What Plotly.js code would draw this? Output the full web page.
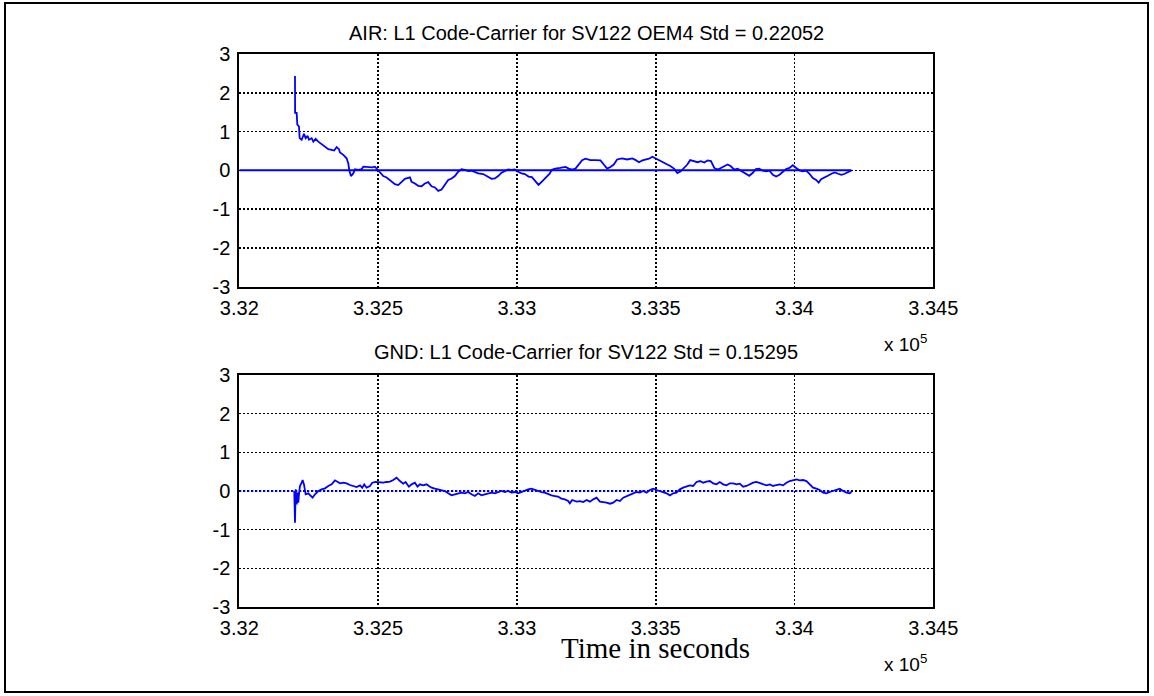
<!DOCTYPE html>
<html><head><meta charset="utf-8">
<script src="https://cdn.plot.ly/plotly-3.0.1.min.js"></script>
<style>html,body{margin:0;padding:0;background:#fff;}#chart{width:1154px;height:696px;}</style>
</head><body><div id="chart"></div>
<script>
const airTitle = 'AIR: L1 Code-Carrier for SV122 OEM4 Std = 0.22052';
const gndTitle = 'GND: L1 Code-Carrier for SV122 Std = 0.15295';
const xLabel = 'Time in seconds';
const xTickVals = [332000, 332500, 333000, 333500, 334000, 334500];
const xTickText = ['3.32', '3.325', '3.33', '3.335', '3.34', '3.345'];
const yTickVals = [-3, -2, -1, 0, 1, 2, 3];
const yTickText = ['-3', '-2', '-1', '0', '1', '2', '3'];

const airTime = [332200.6,332201,332206.6,332209,332215,332217.4,332224.6,332233,332239,332246,332251,332260.6,332266.6,332275,332284.6,332296.6,332308.6,332320.6,332332.6,332342,332350.6,332359,332362.6,332374.6,332386.6,332392.6,332396,332402,332410.6,332416.6,332428.6,332440.6,332446.6,332464.6,332479,332488.6,332498.2,332506.6,332518.6,332530.6,332542.6,332560.6,332572.6,332584.6,332596.6,332614.6,332620.6,332632.6,332644.6,332656.6,332668.6,332680.6,332692.6,332704.6,332716.6,332728.6,332740.6,332752.6,332764.6,332776.6,332788.6,332800.6,332812.6,332824.6,332836.6,332848.6,332860.6,332878.6,332896.6,332908.6,332920.6,332932.6,332944.6,332956.6,332968.6,332980.6,332992.6,333004.6,333016.6,333028.6,333042,333054,333066,333078,333090,333102,333118,333126,333138,333156,333175,333187,333199,333211,333223,333235,333247,333265,333283,333301,333313,333325,333337,333349,333361,333379,333397,333416,333428,333440,333452,333464,333476,333488,333500,333512,333524,333536,333554,333566,333578,333590,333602,333614,333624,333639,333651,333663,333675,333687,333699,333711,333723,333735,333747,333759,333771,333783,333795,333807,333819,333837,333849,333861,333873,333886,333898,333910,333922,333934,333946,333958,333970,333982,333994,334006,334018,334030,334042,334054,334066,334078,334087,334096,334108,334120,334133,334145,334157,334169,334181,334193,334205];
const airValue = [2.43,1.48,1.48,1.18,1.13,0.83,0.79,0.94,0.83,0.89,0.79,0.83,0.74,0.81,0.74,0.68,0.60,0.545,0.53,0.51,0.60,0.545,0.46,0.40,0.31,0.18,0.01,-0.148,-0.08,0.025,0.01,0.03,0.094,0.085,0.077,0.094,0.01,-0.036,-0.148,-0.183,-0.25,-0.356,-0.38,-0.295,-0.217,-0.183,-0.295,-0.34,-0.40,-0.41,-0.34,-0.305,-0.41,-0.44,-0.53,-0.495,-0.38,-0.25,-0.21,-0.148,-0.036,0.03,0.01,-0.02,-0.01,-0.036,-0.08,-0.096,-0.165,-0.217,-0.21,-0.148,-0.06,-0.02,0.025,0.01,0.025,-0.036,-0.08,-0.096,-0.16,-0.175,-0.29,-0.376,-0.29,-0.2,-0.087,0.018,0.044,0.062,0.088,0.044,0.018,0.044,0.15,0.263,0.3,0.263,0.263,0.255,0.15,0.044,0.088,0.15,0.28,0.307,0.28,0.307,0.263,0.21,0.255,0.28,0.3,0.35,0.307,0.263,0.22,0.167,0.105,0.044,-0.07,-0.026,0.062,0.15,0.263,0.237,0.21,0.237,0.202,0.255,0.237,0.062,0.018,0.062,0.105,0.15,0.105,0.018,0.044,-0.009,-0.053,-0.14,-0.07,0.035,0.044,-0.009,-0.026,-0.009,-0.114,-0.158,-0.114,-0.026,0.035,0.062,0.132,0.062,0.0,-0.026,-0.009,-0.088,-0.2,-0.245,-0.316,-0.228,-0.175,-0.14,-0.088,-0.053,-0.088,-0.114,-0.088,-0.053,0.0];

const gndTime = [332198,332200.6,332203,332206.6,332210,332212.6,332215,332218.6,332224.6,332228,332233,332239,332248.6,332258,332264,332272.6,332284.6,332296.6,332308.6,332320.6,332332.6,332344.6,332354,332362.6,332374.6,332386.6,332398.6,332410.6,332422.6,332434.6,332443,332450,332458.6,332470.6,332479,332491,332506.6,332518.6,332530.6,332542.6,332554.6,332566.6,332578.6,332590.6,332599,332611,332620.6,332632.6,332642,332650.6,332662.6,332674.6,332683,332692.6,332704.6,332716.6,332728.6,332740.6,332752.6,332764.6,332776.6,332788.6,332800.6,332812.6,332824.6,332836.6,332848.6,332860.6,332872.6,332884.6,332896.6,332908.6,332920.6,332932.6,332944.6,332956.6,332968.6,332980.6,332992.6,333004.6,333016.6,333028.6,333040.6,333052.6,333064.6,333076.6,333088.6,333100.6,333112.6,333124.6,333136.6,333148.6,333160.6,333172.6,333184.6,333190.6,333199,333215,333227,333239,333251,333263,333275,333287,333299,333311,333323,333335,333347,333359,333371,333383,333395,333407,333419,333431,333443,333455,333467,333479,333491,333503,333515,333527,333539,333551,333563,333575,333587,333599,333611,333623,333635,333647,333659,333671,333683,333695,333707,333719,333731,333743,333755,333767,333779,333791,333803,333815,333827,333839,333851,333863,333875,333887,333899,333911,333923,333935,333947,333959,333971,333983,333995,334007,334019,334031,334043,334055,334067,334079,334091,334103,334115,334127,334139,334151,334163,334175,334187,334199,334205];
const gndValue = [0.0,-0.82,0.043,-0.345,-0.043,-0.3,-0.086,0.13,0.215,0.284,0.172,-0.086,-0.06,-0.13,-0.173,-0.086,0.0,0.043,0.069,0.13,0.172,0.276,0.241,0.198,0.215,0.198,0.155,0.13,0.103,0.146,0.086,0.172,0.086,0.13,0.215,0.233,0.215,0.215,0.233,0.241,0.284,0.345,0.258,0.19,0.233,0.112,0.172,0.215,0.112,0.172,0.146,0.172,0.13,0.086,0.06,0.043,0.026,0.0,-0.06,-0.112,-0.086,-0.069,-0.043,-0.06,-0.026,-0.086,-0.13,-0.06,-0.112,-0.086,-0.06,-0.043,-0.06,-0.026,0.0,-0.026,0.0,-0.043,-0.026,-0.06,-0.026,0.026,0.043,0.06,0.026,0.0,-0.026,-0.043,-0.086,-0.112,-0.13,-0.147,-0.2,-0.216,-0.26,-0.32,-0.233,-0.276,-0.26,-0.285,-0.233,-0.276,-0.216,-0.173,-0.276,-0.285,-0.3,-0.328,-0.3,-0.233,-0.26,-0.173,-0.13,-0.086,-0.06,-0.026,-0.043,0.0,-0.043,0.026,0.06,0.026,0.0,-0.026,-0.06,-0.112,-0.06,-0.043,0.043,0.086,0.112,0.146,0.13,0.233,0.258,0.215,0.241,0.258,0.198,0.172,0.233,0.172,0.146,0.198,0.198,0.172,0.19,0.112,0.13,0.172,0.215,0.233,0.198,0.172,0.146,0.172,0.13,0.155,0.172,0.146,0.215,0.258,0.284,0.3,0.276,0.284,0.258,0.172,0.086,0.06,0.026,-0.043,-0.06,-0.026,0.0,0.043,0.06,0.0,-0.043,-0.06,-0.026];

const zeroTime = [332000, 334205];
const zeroValue = [0, 0];

const W = 1154, H = 696;
const px = v => v / W;
const py = v => 1 - v / H;

const blue = '#0000ff';
const sans = 'Liberation Sans, Arial, sans-serif';
const tickFont = {family: sans, size: 20, color: '#000'};

function xAxis(anchor, domainLeft, domainRight) {
  return {
    domain: [px(domainLeft), px(domainRight)], anchor: anchor,
    range: [332000, 334500], tickmode: 'array', tickvals: xTickVals, ticktext: xTickText,
    showgrid: true, gridcolor: '#000', griddash: '2px,2px', gridwidth: 1.6,
    showline: true, mirror: true, linecolor: '#000', linewidth: 2,
    zeroline: false, ticks: '', tickfont: tickFont, ticklabelstandoff: 2
  };
}
function yAxis(anchor, top, bottom) {
  return {
    domain: [py(bottom), py(top)], anchor: anchor,
    range: [-3, 3], tickmode: 'array', tickvals: yTickVals, ticktext: yTickText,
    showgrid: true, gridcolor: '#000', griddash: '2px,2px', gridwidth: 1.6,
    showline: true, mirror: true, linecolor: '#000', linewidth: 2,
    zeroline: false, ticks: '', tickfont: tickFont, ticklabelstandoff: 3
  };
}

const traces = [
  {x: zeroTime, y: zeroValue, xaxis: 'x', yaxis: 'y', mode: 'lines', line: {color: blue, width: 2}, hoverinfo: 'skip'},
  {x: airTime, y: airValue, xaxis: 'x', yaxis: 'y', mode: 'lines', line: {color: blue, width: 1.8}},
  {x: zeroTime, y: zeroValue, xaxis: 'x2', yaxis: 'y2', mode: 'lines', line: {color: blue, width: 2, dash: '2px,2px'}, hoverinfo: 'skip'},
  {x: gndTime, y: gndValue, xaxis: 'x2', yaxis: 'y2', mode: 'lines', line: {color: blue, width: 1.8}}
];

const layout = {
  width: W, height: H, margin: {l: 0, r: 0, t: 0, b: 0},
  paper_bgcolor: '#fff', plot_bgcolor: '#fff', showlegend: false,
  xaxis: xAxis('y', 239.3, 933.3),
  yaxis: yAxis('x', 54, 286.7),
  xaxis2: xAxis('y2', 239.3, 933.3),
  yaxis2: yAxis('x2', 375, 607),
  shapes: [
    {type: 'rect', xref: 'paper', yref: 'paper', x0: px(5), x1: px(1148), y0: py(3), y1: py(692),
     line: {color: '#000', width: 2}, fillcolor: 'rgba(0,0,0,0)'}
  ],
  annotations: [
    {xref: 'paper', yref: 'paper', x: px(586.3), y: py(33), xanchor: 'center', yanchor: 'middle', showarrow: false,
     text: airTitle, font: {family: sans, size: 20, color: '#000'}},
    {xref: 'paper', yref: 'paper', x: px(586.3), y: py(352), xanchor: 'center', yanchor: 'middle', showarrow: false,
     text: gndTitle, font: {family: sans, size: 20, color: '#000'}},
    {xref: 'paper', yref: 'paper', x: px(882), y: py(343), xanchor: 'left', yanchor: 'middle', showarrow: false,
     text: 'x 10<sup>5</sup>', font: {family: sans, size: 19, color: '#000'}},
    {xref: 'paper', yref: 'paper', x: px(882), y: py(663), xanchor: 'left', yanchor: 'middle', showarrow: false,
     text: 'x 10<sup>5</sup>', font: {family: sans, size: 19, color: '#000'}},
    {xref: 'paper', yref: 'paper', x: px(655.5), y: py(648), xanchor: 'center', yanchor: 'middle', showarrow: false,
     text: xLabel, font: {family: 'Liberation Serif, DejaVu Serif, serif', size: 29, color: '#000'}}
  ]
};

Plotly.newPlot('chart', traces, layout, {displayModeBar: false, staticPlot: true});
</script>
</body></html>
